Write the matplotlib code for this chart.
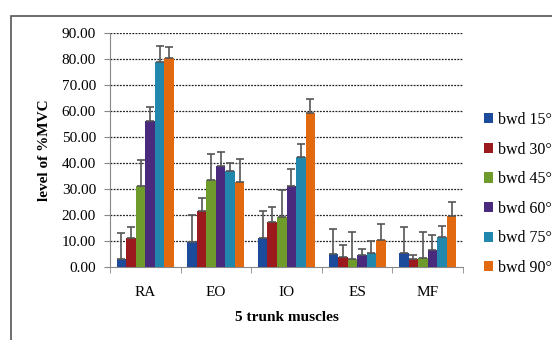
import matplotlib
matplotlib.use("Agg")
import matplotlib.pyplot as plt
import numpy as np
from matplotlib.patches import Rectangle

categories = ["RA", "EO", "IO", "ES", "MF"]
series = ["bwd 15°", "bwd 30°", "bwd 45°", "bwd 60°", "bwd 75°", "bwd 90°"]
bwd15 = [3.2, 9.8, 11.3, 4.9, 5.3]
bwd30 = [11.3, 21.4, 17.4, 3.9, 3.1]
bwd45 = [31.1, 33.3, 19.3, 3.1, 3.5]
bwd60 = [56.3, 39.0, 31.1, 4.5, 6.4]
bwd75 = [78.9, 37.0, 42.2, 5.5, 11.6]
bwd90 = [80.4, 32.6, 59.4, 10.3, 19.5]
err15 = [10.0, 10.2, 10.3, 9.9, 10.1]
err30 = [4.0, 5.0, 5.7, 4.5, 1.4]
err45 = [10.0, 10.3, 10.3, 10.4, 10.1]
err60 = [5.4, 5.2, 6.7, 2.6, 6.1]
err75 = [6.0, 3.0, 5.1, 4.5, 4.3]
err90 = [4.2, 9.0, 5.1, 6.3, 5.6]
yticks = [0, 10, 20, 30, 40, 50, 60, 70, 80, 90]

values = [bwd15, bwd30, bwd45, bwd60, bwd75, bwd90]
errors = [err15, err30, err45, err60, err75, err90]
colors = ["#1d4b9b", "#9b1a1d", "#6f9a2c", "#4a2a7c", "#2187ad", "#e2690f"]

plt.rcParams['font.family'] = ['Liberation Serif', 'DejaVu Serif']
fig = plt.figure(figsize=(5.52, 3.4), dpi=100)
fig.patch.set_facecolor("white")
# outer chart border (left and top visible)
fig.patches.append(Rectangle((11/552, -0.5), 2.0, 1.5 - 16/340, transform=fig.transFigure,
                             fill=False, edgecolor="#555555", linewidth=1.2))

ax = fig.add_axes([110/552, 1 - 267/340, (463 - 110)/552, (267 - 33)/340])
x = np.arange(len(categories))
n = len(series)
w = 0.135
for i in range(n):
    pos = x + (i - (n - 1) / 2) * w
    ax.bar(pos, values[i], width=w, color=colors[i], label=series[i], zorder=3)
    ax.errorbar(pos, values[i], yerr=[np.zeros(len(x)), errors[i]], fmt="none",
                ecolor="#555555", elinewidth=1.2, capsize=3, capthick=1.2, zorder=4)

ax.set_xlim(-0.5, len(categories) - 0.5)
ax.set_ylim(0, 90)
ax.set_yticks(yticks)
ax.set_yticklabels([f"{v:.2f}" for v in yticks], fontsize=11)
ax.set_xticks(x)
ax.set_xticklabels(categories, fontsize=11)
ax.set_xticks(np.arange(len(categories) + 1) - 0.5, minor=True)
ax.tick_params(axis="x", which="major", length=0, pad=14)
ax.tick_params(axis="x", which="minor", length=4, color="#888888")
ax.tick_params(axis="y", length=4, color="#888888", pad=6)
for yv in yticks[1:]:
    ax.axhline(yv, color="#222222", linestyle=(0, (1.5, 1.0)), linewidth=0.9, zorder=1)
for s in ["top", "right"]:
    ax.spines[s].set_visible(False)
ax.spines["left"].set_color("#888888")
ax.spines["bottom"].set_color("#888888")

ax.set_ylabel("level of %MVC", fontsize=11, fontweight="bold", labelpad=8)
ax.set_xlabel("5 trunk muscles", fontsize=11, fontweight="bold", labelpad=8)

leg = ax.legend(loc="upper left", bbox_to_anchor=(1.04, 0.69), frameon=False,
                fontsize=11.5, handlelength=0.6, handleheight=0.6, handletextpad=0.3,
                labelspacing=0.85, borderaxespad=0)

fig.savefig("out.png", dpi=100, facecolor="white")
